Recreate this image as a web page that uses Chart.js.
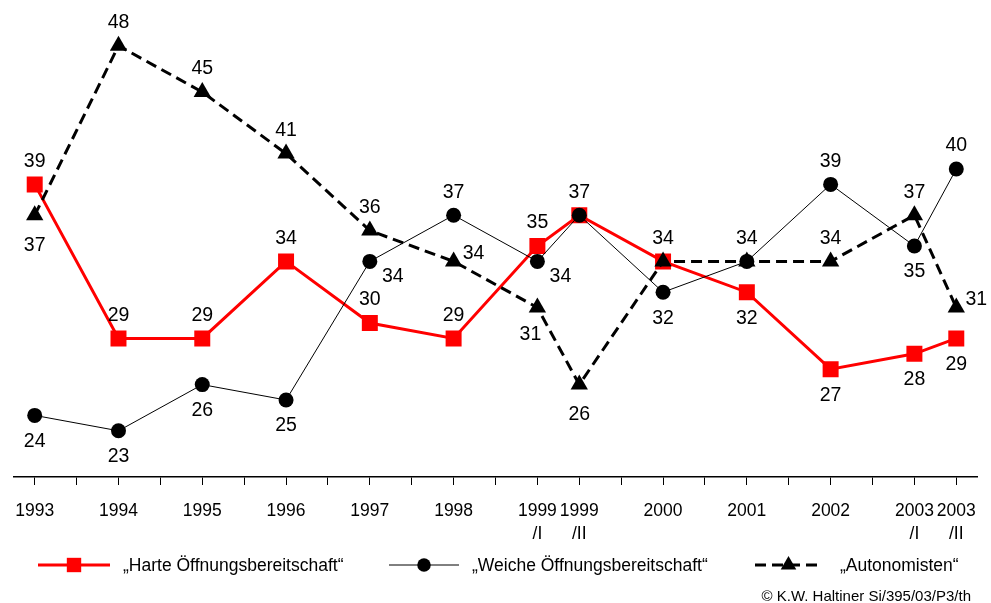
<!DOCTYPE html>
<html>
<head>
<meta charset="utf-8">
<script src="https://cdn.jsdelivr.net/npm/chart.js@4.4.1/dist/chart.umd.min.js"></script>
<style>
  html, body { margin: 0; padding: 0; background: #fff; }
  #wrap { width: 991px; height: 603px; position: relative; }
</style>
</head>
<body>
<div id="wrap"><canvas id="chart"></canvas></div>
<script>
'use strict';

// Halbjahres-Raster: leere Slots tragen nur einen Tick
const LABELS = [
    '1993', '', '1994', '', '1995', '', '1996', '', '1997', '', '1998', '',
    ['1999', '/I'], ['1999', '/II'], '', '2000', '', '2001', '', '2002', '',
    ['2003', '/I'], ['2003', '/II'],
];

const HARTE = [39, null, 29, null, 29, null, 34, null, 30, null, 29, null, 35, 37, null, 34, null, 32, null, 27, null, 28, 29];
const WEICHE = [24, null, 23, null, 26, null, 25, null, 34, null, 37, null, 34, 37, null, 32, null, 34, null, 39, null, 35, 40];
const AUTONOM = [37, null, 48, null, 45, null, 41, null, 36, null, 34, null, 31, 26, null, 34, null, 34, null, 34, null, 37, 31];

const SERIES_NAMES = ['„Harte Öffnungsbereitschaft“', '„Weiche Öffnungsbereitschaft“', '„Autonomisten“'];

const Y_MIN = 20;
const Y_MAX = 50;

// wo die Werte-Beschriftung sitzt: a=oben, b=unten, bb=unten (Dreieck), r=rechts, rb=rechts unten, lb=links unten
const LBL_HARTE = ['a', '', 'a', '', 'a', '', 'a', '', 'a', '', 'a', '', 'a', 'a', '', 'a', '', 'b', '', 'b', '', 'b', 'b'];
const LBL_WEICHE = ['b', '', 'b', '', 'b', '', 'b', '', 'rb', '', 'a', '', 'rb', '', '', 'b', '', 'a', '', 'a', '', 'b', 'a'];
const LBL_AUTONOM = ['bb', '', 'a', '', 'a', '', 'a', '', 'a', '', 'r', '', 'lb', 'bb', '', '', '', '', '', 'a', '', 'a', 'r'];

const FONT = "'Liberation Sans', Arial, sans-serif";

const OFFSETS = {
    a: [0, -23],
    b: [0, 26],
    bb: [0, 30],
    r: [20, -8],
    rb: [23, 15],
    lb: [-7, 27],
};

const werteLabels = {
    id: 'werteLabels',
    afterDatasetsDraw(chart) {
        const ctx = chart.ctx;
        ctx.save();
        ctx.font = `19.5px ${FONT}`;
        ctx.fillStyle = '#000';
        ctx.textAlign = 'center';
        ctx.textBaseline = 'middle';
        chart.data.datasets.forEach((ds, i) => {
            const meta = chart.getDatasetMeta(i);
            ds.lbl.forEach((code, j) => {
                if (!code || ds.data[j] == null) return;
                const pt = meta.data[j];
                const [dx, dy] = OFFSETS[code];
                ctx.fillText(String(ds.data[j]), pt.x + dx, pt.y + dy);
            });
        });
        ctx.restore();
    },
};

const legende = {
    id: 'legende',
    afterDraw(chart) {
        const ctx = chart.ctx;
        const y = 565;
        const items = [
            { x1: 38, x2: 110, text: 123 },
            { x1: 389, x2: 459, text: 472 },
            { x1: 755, x2: 822, text: 840 },
        ];
        ctx.save();
        chart.data.datasets.forEach((ds, i) => {
            const it = items[i];
            ctx.strokeStyle = ds.borderColor;
            ctx.lineWidth = ds.borderWidth;
            ctx.setLineDash(ds.borderDash || []);
            ctx.beginPath();
            ctx.moveTo(it.x1, y);
            ctx.lineTo(it.x2, y);
            ctx.stroke();
            ctx.setLineDash([]);
            ctx.fillStyle = ds.pointBackgroundColor;
            Chart.helpers.drawPoint(ctx, {
                pointStyle: ds.pointStyle,
                radius: ds.pointRadius * 0.9,
                borderWidth: 0,
                rotation: 0,
            }, (it.x1 + it.x2) / 2, y);
            ctx.fillStyle = '#000';
            ctx.font = `17.5px ${FONT}`;
            ctx.textAlign = 'left';
            ctx.textBaseline = 'middle';
            ctx.fillText(ds.label, it.text, y + 1);
        });
        ctx.font = `15px ${FONT}`;
        ctx.textAlign = 'right';
        ctx.fillText('© K.W. Haltiner Si/395/03/P3/th', 971, 597);
        ctx.restore();
    },
};

new Chart(document.getElementById('chart'), {
    type: 'line',
    data: {
        labels: LABELS,
        datasets: [
            {
                label: SERIES_NAMES[0],
                data: HARTE,
                lbl: LBL_HARTE,
                borderColor: '#ff0000',
                borderWidth: 3,
                pointStyle: 'rect',
                pointRadius: 11.3,
                pointBackgroundColor: '#ff0000',
                pointBorderWidth: 0,
                order: 3,
            },
            {
                label: SERIES_NAMES[1],
                data: WEICHE,
                lbl: LBL_WEICHE,
                borderColor: '#000',
                borderWidth: 1,
                pointStyle: 'circle',
                pointRadius: 7.5,
                pointBackgroundColor: '#000',
                pointBorderWidth: 0,
                order: 2,
            },
            {
                label: SERIES_NAMES[2],
                data: AUTONOM,
                lbl: LBL_AUTONOM,
                borderColor: '#000',
                borderWidth: 3,
                borderDash: [11, 6],
                pointStyle: 'triangle',
                pointRadius: 10,
                pointBackgroundColor: '#000',
                pointBorderWidth: 0,
                order: 1,
            },
        ],
    },
    options: {
        responsive: true,
        maintainAspectRatio: false,
        animation: false,
        spanGaps: true,
        layout: { padding: { left: 12, right: 13, top: 15, bottom: 0 } },
        elements: { line: { tension: 0 } },
        plugins: {
            legend: { display: false },
            tooltip: { enabled: false },
        },
        scales: {
            x: {
                offset: true,
                afterFit: (scale) => { scale.height = 126; },
                border: { display: true, color: '#000', width: 1.5 },
                grid: {
                    drawOnChartArea: false,
                    drawTicks: true,
                    tickLength: 8,
                    tickColor: '#000',
                    tickWidth: 1,
                },
                ticks: {
                    autoSkip: false,
                    maxRotation: 0,
                    padding: 15,
                    color: '#000',
                    font: { family: FONT, size: 17.5, lineHeight: 1.3 },
                },
            },
            y: {
                display: false,
                min: Y_MIN,
                max: Y_MAX,
            },
        },
    },
    plugins: [werteLabels, legende],
});
</script>
</body>
</html>
